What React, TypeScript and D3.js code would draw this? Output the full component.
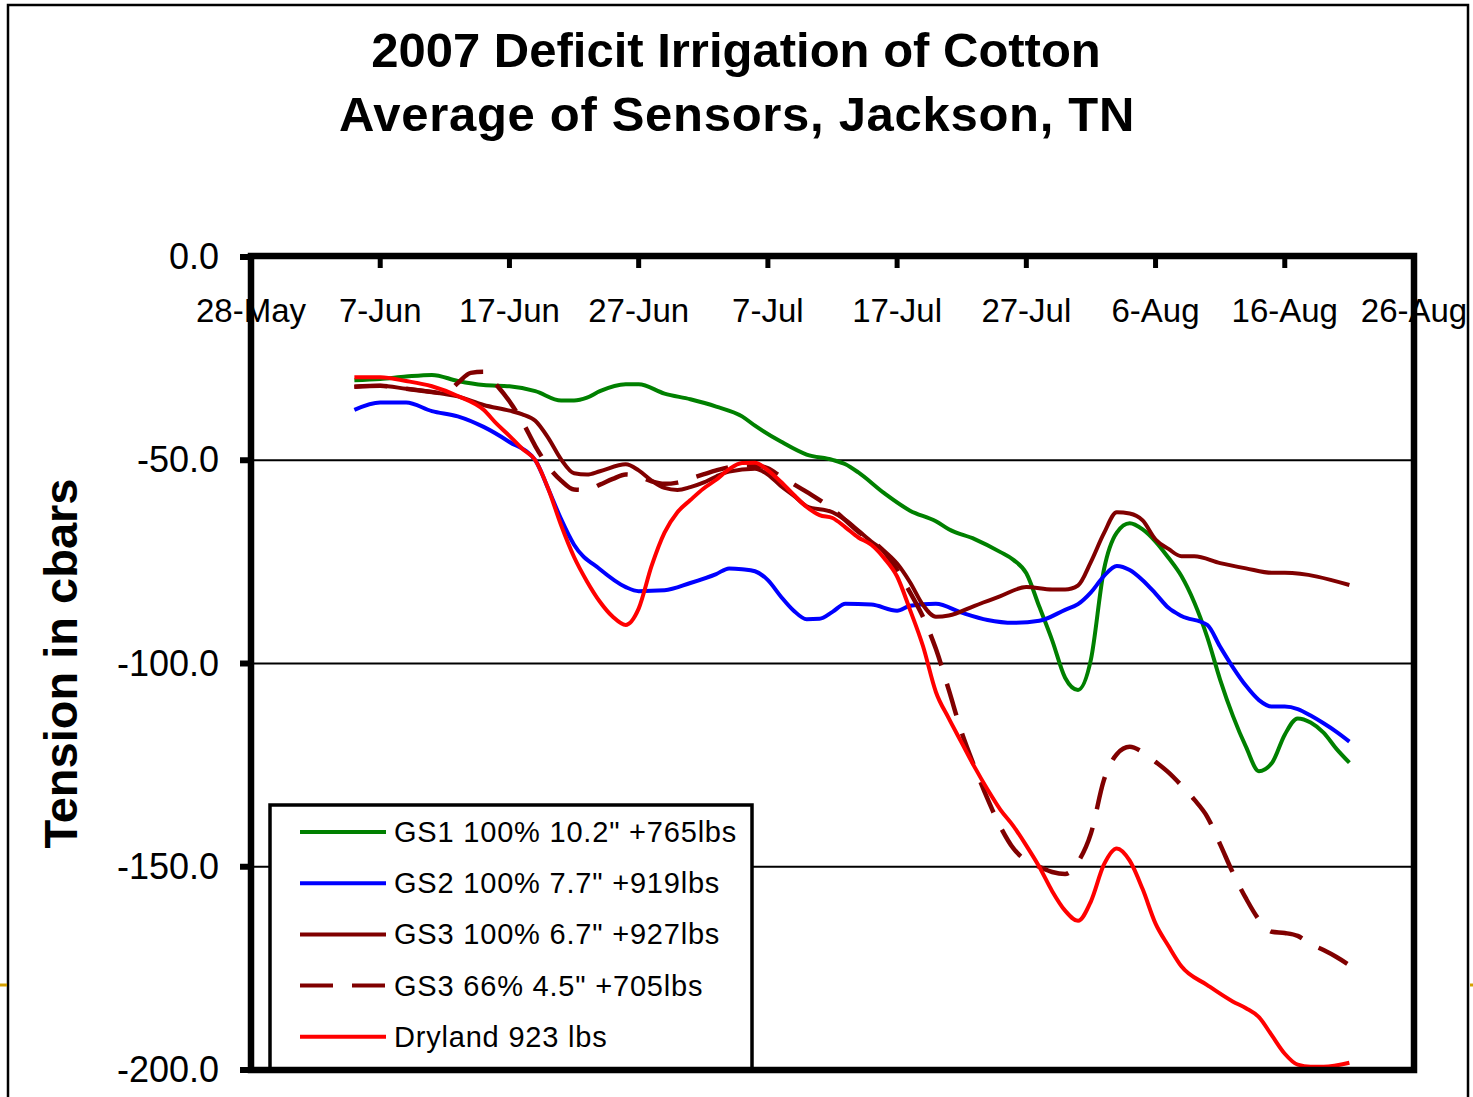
import React from 'react';
import * as d3 from 'd3';

// Soil water tension (cbars)
const gs1: [string, number][] = [
  ['6/5', -30.3], ['6/7', -30.0], ['6/9', -29.4], ['6/11', -29.0], ['6/13', -30.5], ['6/15', -31.5],
  ['6/17', -31.8], ['6/19', -33.0], ['6/21', -35.3], ['6/22', -35.3], ['6/23', -34.6], ['6/24', -33.0],
  ['6/26', -31.3], ['6/27', -31.3], ['6/29', -33.6], ['7/1', -35.0], ['7/3', -36.8], ['7/5', -39.2],
  ['7/6', -41.5], ['7/8', -45.4], ['7/10', -48.6], ['7/12', -49.9], ['7/13', -51.0], ['7/14', -53.0],
  ['7/16', -58.1], ['7/18', -62.4], ['7/20', -65.0], ['7/21', -67.0], ['7/23', -69.4], ['7/25', -72.6],
  ['7/26', -74.5], ['7/27', -77.8], ['7/28', -86.0], ['7/29', -94.3], ['7/30', -103.5], ['7/31', -106.5],
  ['8/1', -99.0], ['8/2', -77.0], ['8/3', -67.8], ['8/4', -65.5], ['8/5', -67.0], ['8/6', -70.0],
  ['8/7', -74.0], ['8/8', -78.5], ['8/9', -85.0], ['8/10', -93.5], ['8/11', -104.0], ['8/12', -113.0],
  ['8/13', -120.5], ['8/14', -126.5], ['8/15', -124.5], ['8/16', -117.5], ['8/17', -113.5], ['8/18', -114.5],
  ['8/19', -117.0], ['8/20', -121.0], ['8/21', -124.4],
];

const gs2: [string, number][] = [
  ['6/5', -37.6], ['6/7', -35.8], ['6/9', -35.8], ['6/11', -37.9], ['6/13', -39.2], ['6/15', -41.8],
  ['6/17', -45.5], ['6/19', -50.0], ['6/20', -57.0], ['6/21', -64.5], ['6/22', -70.8], ['6/24', -76.8],
  ['6/26', -81.2], ['6/27', -82.2], ['6/29', -82.0], ['7/1', -80.2], ['7/3', -78.0], ['7/4', -76.6],
  ['7/5', -76.8], ['7/6', -77.3], ['7/7', -79.5], ['7/8', -83.5], ['7/9', -87.0], ['7/10', -89.1],
  ['7/11', -89.0], ['7/12', -87.3], ['7/13', -85.3], ['7/15', -85.5], ['7/17', -87.0], ['7/18', -85.8],
  ['7/20', -85.3], ['7/22', -87.5], ['7/24', -89.3], ['7/26', -90.0], ['7/28', -89.5], ['7/30', -86.8],
  ['7/31', -85.4], ['8/1', -82.5], ['8/2', -78.5], ['8/3', -76.0], ['8/4', -77.0], ['8/5', -79.5],
  ['8/6', -82.8], ['8/7', -86.3], ['8/8', -88.3], ['8/10', -90.5], ['8/11', -95.9], ['8/12', -101.0],
  ['8/13', -105.5], ['8/14', -109.0], ['8/15', -110.6], ['8/16', -110.6], ['8/17', -111.2], ['8/18', -112.8],
  ['8/19', -114.7], ['8/20', -116.8], ['8/21', -119.2],
];

const gs3Full: [string, number][] = [
  ['6/5', -31.9], ['6/7', -31.7], ['6/9', -32.4], ['6/11', -33.2], ['6/13', -34.3], ['6/15', -36.4],
  ['6/17', -37.8], ['6/18', -38.7], ['6/19', -40.3], ['6/20', -44.5], ['6/21', -49.8], ['6/22', -53.2],
  ['6/23', -53.5], ['6/24', -52.7], ['6/26', -51.0], ['6/27', -52.5], ['6/28', -55.0], ['6/29', -56.8],
  ['6/30', -57.3], ['7/1', -56.6], ['7/2', -55.5], ['7/3', -54.0], ['7/4', -52.8], ['7/6', -52.1],
  ['7/7', -53.5], ['7/8', -56.3], ['7/9', -58.7], ['7/10', -61.3], ['7/12', -62.8], ['7/13', -64.7],
  ['7/14', -67.3], ['7/15', -70.0], ['7/16', -72.3], ['7/17', -75.4], ['7/18', -80.0], ['7/19', -85.6],
  ['7/20', -88.5], ['7/21', -88.2], ['7/23', -85.8], ['7/25', -83.4], ['7/27', -81.2], ['7/29', -81.8],
  ['7/30', -81.8], ['7/31', -80.8], ['8/1', -75.0], ['8/2', -68.0], ['8/3', -62.8], ['8/4', -63.1],
  ['8/5', -64.8], ['8/6', -69.5], ['8/7', -71.8], ['8/8', -73.6], ['8/9', -73.6], ['8/11', -75.3],
  ['8/13', -76.6], ['8/15', -77.7], ['8/16', -77.7], ['8/21', -80.7],
];

const gs3Deficit: [string, number][] = [
  ['6/5', -31.9], ['6/7', -31.7], ['6/9', -32.4], ['6/11', -33.2], ['6/12', -33.6], ['6/13', -31.0],
  ['6/14', -28.5], ['6/15', -28.2], ['6/16', -31.5], ['6/17', -35.5], ['6/18', -40.5], ['6/19', -46.5],
  ['6/20', -51.5], ['6/21', -55.0], ['6/22', -57.2], ['6/23', -57.3], ['6/24', -56.0], ['6/25', -54.6],
  ['6/26', -53.5], ['6/27', -54.0], ['6/28', -55.2], ['6/29', -55.8], ['6/30', -55.5], ['7/1', -54.5],
  ['7/2', -53.5], ['7/3', -52.5], ['7/5', -51.3], ['7/6', -51.3], ['7/7', -52.0], ['7/8', -54.0],
  ['7/10', -57.8], ['7/12', -62.0], ['7/14', -67.6], ['7/16', -72.5], ['7/17', -77.0], ['7/18', -82.5],
  ['7/19', -88.5], ['7/20', -96.4], ['7/21', -106.5], ['7/22', -117.0], ['7/23', -125.5], ['7/24', -133.3],
  ['7/25', -140.2], ['7/26', -145.5], ['7/27', -148.5], ['7/28', -150.0], ['7/29', -151.3], ['7/30', -151.8],
  ['7/31', -148.8], ['8/1', -141.8], ['8/2', -128.7], ['8/3', -122.3], ['8/4', -120.5], ['8/5', -121.8],
  ['8/6', -124.2], ['8/7', -126.8], ['8/8', -130.0], ['8/9', -133.5], ['8/10', -137.7], ['8/11', -144.5],
  ['8/12', -151.6], ['8/13', -157.8], ['8/14', -163.0], ['8/15', -166.0], ['8/16', -166.3], ['8/17', -167.0],
  ['8/18', -169.0], ['8/19', -170.5], ['8/20', -172.2], ['8/21', -174.2],
];

const dryland: [string, number][] = [
  ['6/5', -29.6], ['6/7', -29.6], ['6/9', -30.5], ['6/11', -31.8], ['6/13', -34.2], ['6/15', -37.6],
  ['6/16', -41.0], ['6/17', -44.0], ['6/18', -47.2], ['6/19', -50.0], ['6/20', -57.0], ['6/21', -66.0],
  ['6/22', -73.8], ['6/23', -79.8], ['6/24', -84.8], ['6/25', -88.5], ['6/26', -90.5], ['6/27', -86.5],
  ['6/28', -76.0], ['6/29', -67.8], ['6/30', -62.8], ['7/1', -59.8], ['7/2', -57.0], ['7/3', -54.8],
  ['7/4', -52.2], ['7/5', -50.7], ['7/6', -50.6], ['7/7', -52.5], ['7/8', -55.3], ['7/9', -58.5],
  ['7/10', -61.5], ['7/11', -63.5], ['7/12', -64.2], ['7/13', -66.5], ['7/14', -69.0], ['7/15', -70.8],
  ['7/16', -74.1], ['7/17', -78.6], ['7/18', -86.8], ['7/19', -95.7], ['7/20', -107.0], ['7/21', -113.5],
  ['7/22', -119.5], ['7/23', -125.5], ['7/24', -131.0], ['7/25', -136.0], ['7/26', -140.0], ['7/27', -144.8],
  ['7/28', -150.0], ['7/29', -156.0], ['7/30', -160.8], ['7/31', -163.3], ['8/1', -158.5], ['8/2', -149.5],
  ['8/3', -145.5], ['8/4', -148.5], ['8/5', -155.5], ['8/6', -164.0], ['8/7', -169.5], ['8/8', -174.5],
  ['8/10', -179.1], ['8/12', -183.2], ['8/13', -184.8], ['8/14', -187.0], ['8/15', -191.5], ['8/16', -196.0],
  ['8/17', -198.7], ['8/18', -199.2], ['8/19', -199.2], ['8/21', -198.2],
];

const seriesNames = [
  'GS1 100% 10.2" +765lbs',
  'GS2 100% 7.7" +919lbs',
  'GS3 100% 6.7" +927lbs',
  'GS3 66% 4.5" +705lbs',
  'Dryland 923 lbs',
];
const seriesColors = ['#008000', '#0000ff', '#800000', '#800000', '#ff0000'];
const seriesDashed = [false, false, false, true, false];
const seriesData = [gs1, gs2, gs3Full, gs3Deficit, dryland];

const xTickDates = ['5/28', '6/7', '6/17', '6/27', '7/7', '7/17', '7/27', '8/6', '8/16', '8/26'];
const yTicks = [0, -50, -100, -150, -200];
const gridValues = [-50, -100, -150];

const titleLines = ['2007 Deficit Irrigation of Cotton', 'Average of Sensors, Jackson, TN'];
const yTitle = 'Tension in cbars';

const FONT = '"Liberation Sans", Arial, Helvetica, sans-serif';

const parse = d3.timeParse('%m/%d/%Y');
const toDate = (s: string) => parse(`${s}/2007`) as Date;
const fmtTick = d3.timeFormat('%-d-%b');

export default function App() {
  const width = 1473;
  const height = 1097;
  const plot = { left: 251, right: 1414, top: 257, bottom: 1070 };

  const x = d3.scaleTime()
    .domain([toDate('5/28'), toDate('8/26')])
    .range([plot.left, plot.right]);
  const y = d3.scaleLinear().domain([-200, 0]).range([plot.bottom, plot.top]);

  const line = d3.line<[string, number]>()
    .x(d => x(toDate(d[0])))
    .y(d => y(d[1]))
    .curve(d3.curveMonotoneX);

  const legend = { x: 270, y: 805, w: 482, h: 264, row0: 832, rowStep: 51.2 };

  return (
    <div style={{ position: 'absolute', left: 0, top: 0 }}>
      <svg width={width} height={height} style={{ display: 'block', background: '#fff' }} fontFamily={FONT}>
        {/* outer frame */}
        <rect x={8} y={5} width={1460} height={1200} fill="none" stroke="#000" strokeWidth={2.5} />
        <line x1={0} x2={7} y1={985} y2={985} stroke="#d4a000" strokeWidth={3} />
        <line x1={1470} x2={1473} y1={985} y2={985} stroke="#d4a000" strokeWidth={3} />

        {/* title */}
        <text x={736} y={67} textAnchor="middle" fontSize={49} fontWeight="bold">{titleLines[0]}</text>
        <text x={737} y={131} textAnchor="middle" fontSize={49} fontWeight="bold" letterSpacing={0.7}>{titleLines[1]}</text>

        {/* y axis title */}
        <text transform={`translate(77,${(plot.top + plot.bottom) / 2}) rotate(-90)`} textAnchor="middle"
          fontSize={47} fontWeight="bold">{yTitle}</text>

        {/* gridlines */}
        {gridValues.map(v => (
          <line key={v} x1={plot.left} x2={plot.right} y1={y(v)} y2={y(v)} stroke="#000" strokeWidth={2} />
        ))}

        {/* series */}
        {seriesData.map((data, i) => (
          <path key={seriesNames[i]} d={line(data) || ''} fill="none" stroke={seriesColors[i]}
            strokeWidth={seriesDashed[i] ? 4.5 : 4} strokeDasharray={seriesDashed[i] ? '33,19' : undefined}
            strokeLinejoin="round" />
        ))}

        {/* legend */}
        <rect x={legend.x} y={legend.y} width={legend.w} height={legend.h} fill="#fff" stroke="#000" strokeWidth={3.5} />
        {seriesNames.map((name, i) => {
          const ry = legend.row0 + i * legend.rowStep;
          return (
            <g key={name}>
              <line x1={300} x2={386} y1={ry} y2={ry} stroke={seriesColors[i]} strokeWidth={4}
                strokeDasharray={seriesDashed[i] ? '33,19' : undefined} />
              <text x={394} y={ry + 10} fontSize={29} letterSpacing={0.8}>{name}</text>
            </g>
          );
        })}

        {/* plot border / axes */}
        <rect x={plot.left} y={plot.top - 1} width={plot.right - plot.left} height={plot.bottom - plot.top + 1}
          fill="none" stroke="#000" strokeWidth={6.5} />

        {/* y ticks and labels */}
        {yTicks.map(v => (
          <g key={v}>
            <line x1={240} x2={plot.left} y1={y(v)} y2={y(v)} stroke="#000" strokeWidth={6} />
            <text x={219} y={y(v) + 12} textAnchor="end" fontSize={36}>{v.toFixed(1)}</text>
          </g>
        ))}

        {/* x ticks (top axis) and labels */}
        {xTickDates.map((s, i) => {
          const px = x(toDate(s));
          return (
            <g key={s}>
              {i > 0 && i < xTickDates.length - 1 && (
                <line x1={px} x2={px} y1={plot.top} y2={plot.top + 11} stroke="#000" strokeWidth={5} />
              )}
              <text x={px} y={322} textAnchor="middle" fontSize={33}>{fmtTick(toDate(s))}</text>
            </g>
          );
        })}
      </svg>
    </div>
  );
}
